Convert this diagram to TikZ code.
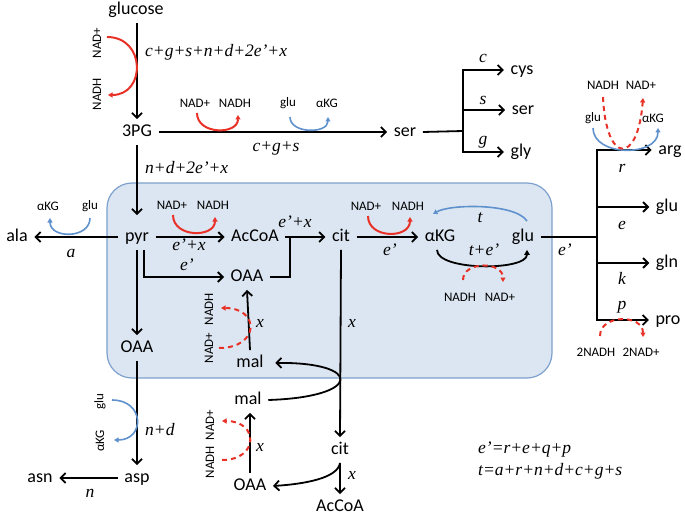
\documentclass[tikz,border=0pt]{standalone}
\usepackage{fontspec}
\setmainfont{Carlito}
\newfontfamily\tmsf{Liberation Serif}
\usetikzlibrary{arrows.meta}
\definecolor{cred}{RGB}{232,50,40}
\definecolor{cblue}{RGB}{95,145,205}
\definecolor{boxfill}{RGB}{220,230,242}
\definecolor{boxline}{RGB}{125,160,205}
\begin{document}
\begin{tikzpicture}[x=1pt,y=-1pt,
  mol/.style={font=\fontsize{18}{18}\selectfont, text height=12.7pt, text depth=3.7pt, inner xsep=6.5pt, inner ysep=4.5pt},
  ml/.style={font=\tmsf\itshape\fontsize{17.5}{17.5}\selectfont, inner sep=0pt},
  cof/.style={font=\fontsize{13}{13}\selectfont, inner sep=0pt},
  arr/.style={line width=1.8pt, -{Straight Barb[length=5pt,width=10pt]}},
  ln/.style={line width=1.8pt},
  redarc/.style={cred, line width=2pt, -{Triangle[length=4.5pt,width=5pt]}},
  redd/.style={redarc, dash pattern=on 5pt off 4pt},
  bluearc/.style={cblue, line width=1.6pt, -{Triangle[length=4.5pt,width=5pt]}},
]
\useasboundingbox (0,0) rectangle (685,516);
\draw[fill=boxfill, draw=boxline, line width=1.2pt, rounded corners=25pt] (107,183) rectangle (552,378);

% metabolites
\node[mol] (glucose) at (136,10) {glucose};
\node[mol] (pg3) at (137,132) {3PG};
\node[mol] (ser1) at (405,132) {ser};
\node[mol] (cys) at (522,70) {cys};
\node[mol] (serb) at (523,110) {ser};
\node[mol] (gly) at (521,152) {gly};
\node[mol] (pyr) at (137,237) {pyr};
\node[mol] (ala) at (17,237) {ala};
\node[mol] (accoa) at (255,237) {AcCoA};
\node[mol] (cit) at (341,237) {cit};
\node[mol] (akg) at (440,237) {αKG};
\node[mol] (glu) at (523,237) {glu};
\node[mol] (oaa1) at (247,277) {OAA};
\node[mol] (mal1) at (250,363) {mal};
\node[mol] (oaa2) at (137,348) {OAA};
\node[mol] (asp) at (137,478) {asp};
\node[mol] (asn) at (40,478) {asn};
\node[mol] (mal2) at (248,400) {mal};
\node[mol] (oaa3) at (250,486) {OAA};
\node[mol] (cit2) at (340,450) {cit};
\node[mol] (accoa2) at (340,507) {AcCoA};
\node[mol] (arg) at (670,150) {arg};
\node[mol] (glub) at (667,207) {glu};
\node[mol] (gln) at (667,263) {gln};
\node[mol] (pro) at (668,320) {pro};
\coordinate (sj) at (463,131);
\coordinate (gj) at (597,237);
\coordinate (jn) at (290,237);

% main connectors
\draw[arr] (glucose.south-|pg3) -- (pg3.north);
\draw[arr] (pg3.east) -- (ser1.west);
\draw[ln] (ser1.east) -- (sj);
\draw[arr] (sj) |- (cys.west);
\draw[arr] (sj) |- (gly.west);
\draw[arr] (sj|-serb.west) -- (serb.west);
\draw[arr, shorten >=9pt] (pg3.south) -- (pyr.north);
\draw[arr] (pyr.west) -- (ala.east);
\draw[arr] (pyr.east) -- (accoa.west);
\draw[arr] (accoa.east) -- (cit.west);
\draw[arr] ([xshift=7pt]pyr.south) |- (oaa1.west);
\draw[ln] (oaa1.east) -| (jn);
\draw[arr] (pyr.south) -- (oaa2.north);
\draw[arr] (mal1.north) -- (oaa1.south);
\draw[arr] (cit.south) -- (cit2.north);
\draw[arr, shorten >=5pt] (mal2.east) .. controls (363,397) and (363,362) .. (mal1.east);
\draw[arr] (oaa2.south) -- (asp.north);
\draw[arr] (asp.west) -- (asn.east);
\draw[arr] (oaa3.north) -- (oaa3.north|-mal2.south);
\draw[arr] (cit2.south) .. controls (338,478) and (305,484) .. (oaa3.east);
\draw[arr] (cit2.south) -- (accoa2.north);
\draw[arr] (cit.east) -- (akg.west);
\draw[line width=1.8pt, -{Triangle[length=5pt,width=5.5pt]}] ([xshift=-3pt]akg.south) .. controls (437,271) and (527,271) .. ([xshift=4pt]glu.south);
\draw[ln] (glu.east) -- (gj);
\draw[arr] (gj) |- (arg.west);
\draw[arr] (gj) |- (pro.west);
\draw[arr] (gj|-glub.west) -- (glub.west);
\draw[arr] (gj|-gln.west) -- (gln.west);

% flux labels
\node[ml, anchor=west] (l1) at (145,52) {c+g+s+n+d+2e’+x};
\node[ml] (l2) at (276,148) {c+g+s};
\node[ml, anchor=west] (l3) at (145,168) {n+d+2e’+x};
\node[ml] (lc) at (483,58) {c};
\node[ml] (ls) at (483,100) {s};
\node[ml] (lg) at (483,142) {g};
\node[ml] (la) at (71,253) {a};
\node[ml] (l4) at (189,245) {e’+x};
\node[ml] (l5) at (295,222) {e’+x};
\node[ml] (l6) at (187,265) {e’};
\node[ml] (l7) at (260,323) {x};
\node[ml] (l8) at (352,323) {x};
\node[ml, anchor=west] (l9) at (145,430) {n+d};
\node[ml] (ln1) at (90,493) {n};
\node[ml] (l10) at (260,447) {x};
\node[ml] (l11) at (352,475) {x};
\node[ml] (l12) at (390,250) {e’};
\node[ml] (lt) at (480,218) {t};
\node[ml] (l13) at (484,250) {t+e’};
\node[ml] (l14) at (565,250) {e’};
\node[ml] (lr) at (622,168) {r};
\node[ml] (le) at (622,225) {e};
\node[ml] (lk) at (622,278) {k};
\node[ml] (lp) at (622,307) {p};
\node[ml, anchor=west] (eq1) at (478,450) {e’=r+e+q+p};
\node[ml, anchor=west] (eq2) at (478,471) {t=a+r+n+d+c+g+s};

% cofactor labels
\node[cof, rotate=90] (c1) at (97,43) {NAD+};
\node[cof, rotate=90] (c2) at (97,94) {NADH};
\node[cof] (c3) at (195,103) {NAD+};
\node[cof] (c4) at (235,103) {NADH};
\node[cof] (c5) at (288,103) {glu};
\node[cof] (c6) at (327,103) {αKG};
\node[cof] (c7) at (48,206) {αKG};
\node[cof] (c8) at (90,206) {glu};
\node[cof] (c9) at (172,205) {NAD+};
\node[cof] (c10) at (213,205) {NADH};
\node[cof, rotate=90] (c11) at (209,348) {NAD+};
\node[cof, rotate=90] (c12) at (209,309) {NADH};
\node[cof, rotate=90] (c13) at (100,402) {glu};
\node[cof, rotate=90] (c14) at (100,441) {αKG};
\node[cof, rotate=90] (c15) at (210,462) {NADH};
\node[cof, rotate=90] (c16) at (210,425) {NAD+};
\node[cof] (c17) at (366,206) {NAD+};
\node[cof] (c18) at (408,206) {NADH};
\node[cof] (c19) at (460,297) {NADH};
\node[cof] (c20) at (500,297) {NAD+};
\node[cof] (c21) at (603,85) {NADH};
\node[cof] (c22) at (641,85) {NAD+};
\node[cof] (c23) at (593,118) {glu};
\node[cof] (c24) at (653,118) {αKG};
\node[cof] (c25) at (596,352) {2NADH};
\node[cof] (c26) at (641,352) {2NAD+};

% cofactor arcs
\draw[redarc] (107,37) .. controls (146,37) and (146,95) .. (108,95);
\draw[redarc] (197,113) .. controls (197,135) and (238,135) .. (238,115);
\draw[bluearc] (290,117) .. controls (290,134) and (328,134) .. (328,117);
\draw[bluearc] (90,218) .. controls (90,239) and (50,239) .. (50,218);
\draw[redarc] (173,215) .. controls (173,238) and (215,238) .. (215,217);
\draw[redd] (219,348) .. controls (260,348) and (260,308) .. (221,308);
\draw[bluearc] (112,400) .. controls (145,400) and (145,440) .. (114,440);
\draw[redd] (222,460) .. controls (259,460) and (259,421) .. (222,421);
\draw[redarc] (368,216) .. controls (368,239) and (410,239) .. (410,217);
\draw[redd] (463,280) .. controls (463,261) and (503,261) .. (503,282);
\draw[bluearc] (527,221) .. controls (515,203) and (450,204) .. (433,214);
\draw[bluearc] (593,128) .. controls (593,157) and (658,157) .. (658,128);
\draw[redd] (603,97) .. controls (606,165) and (638,165) .. (643,98);
\draw[redd] (600,336) .. controls (600,314) and (643,314) .. (643,337);
\end{tikzpicture}
\end{document}
